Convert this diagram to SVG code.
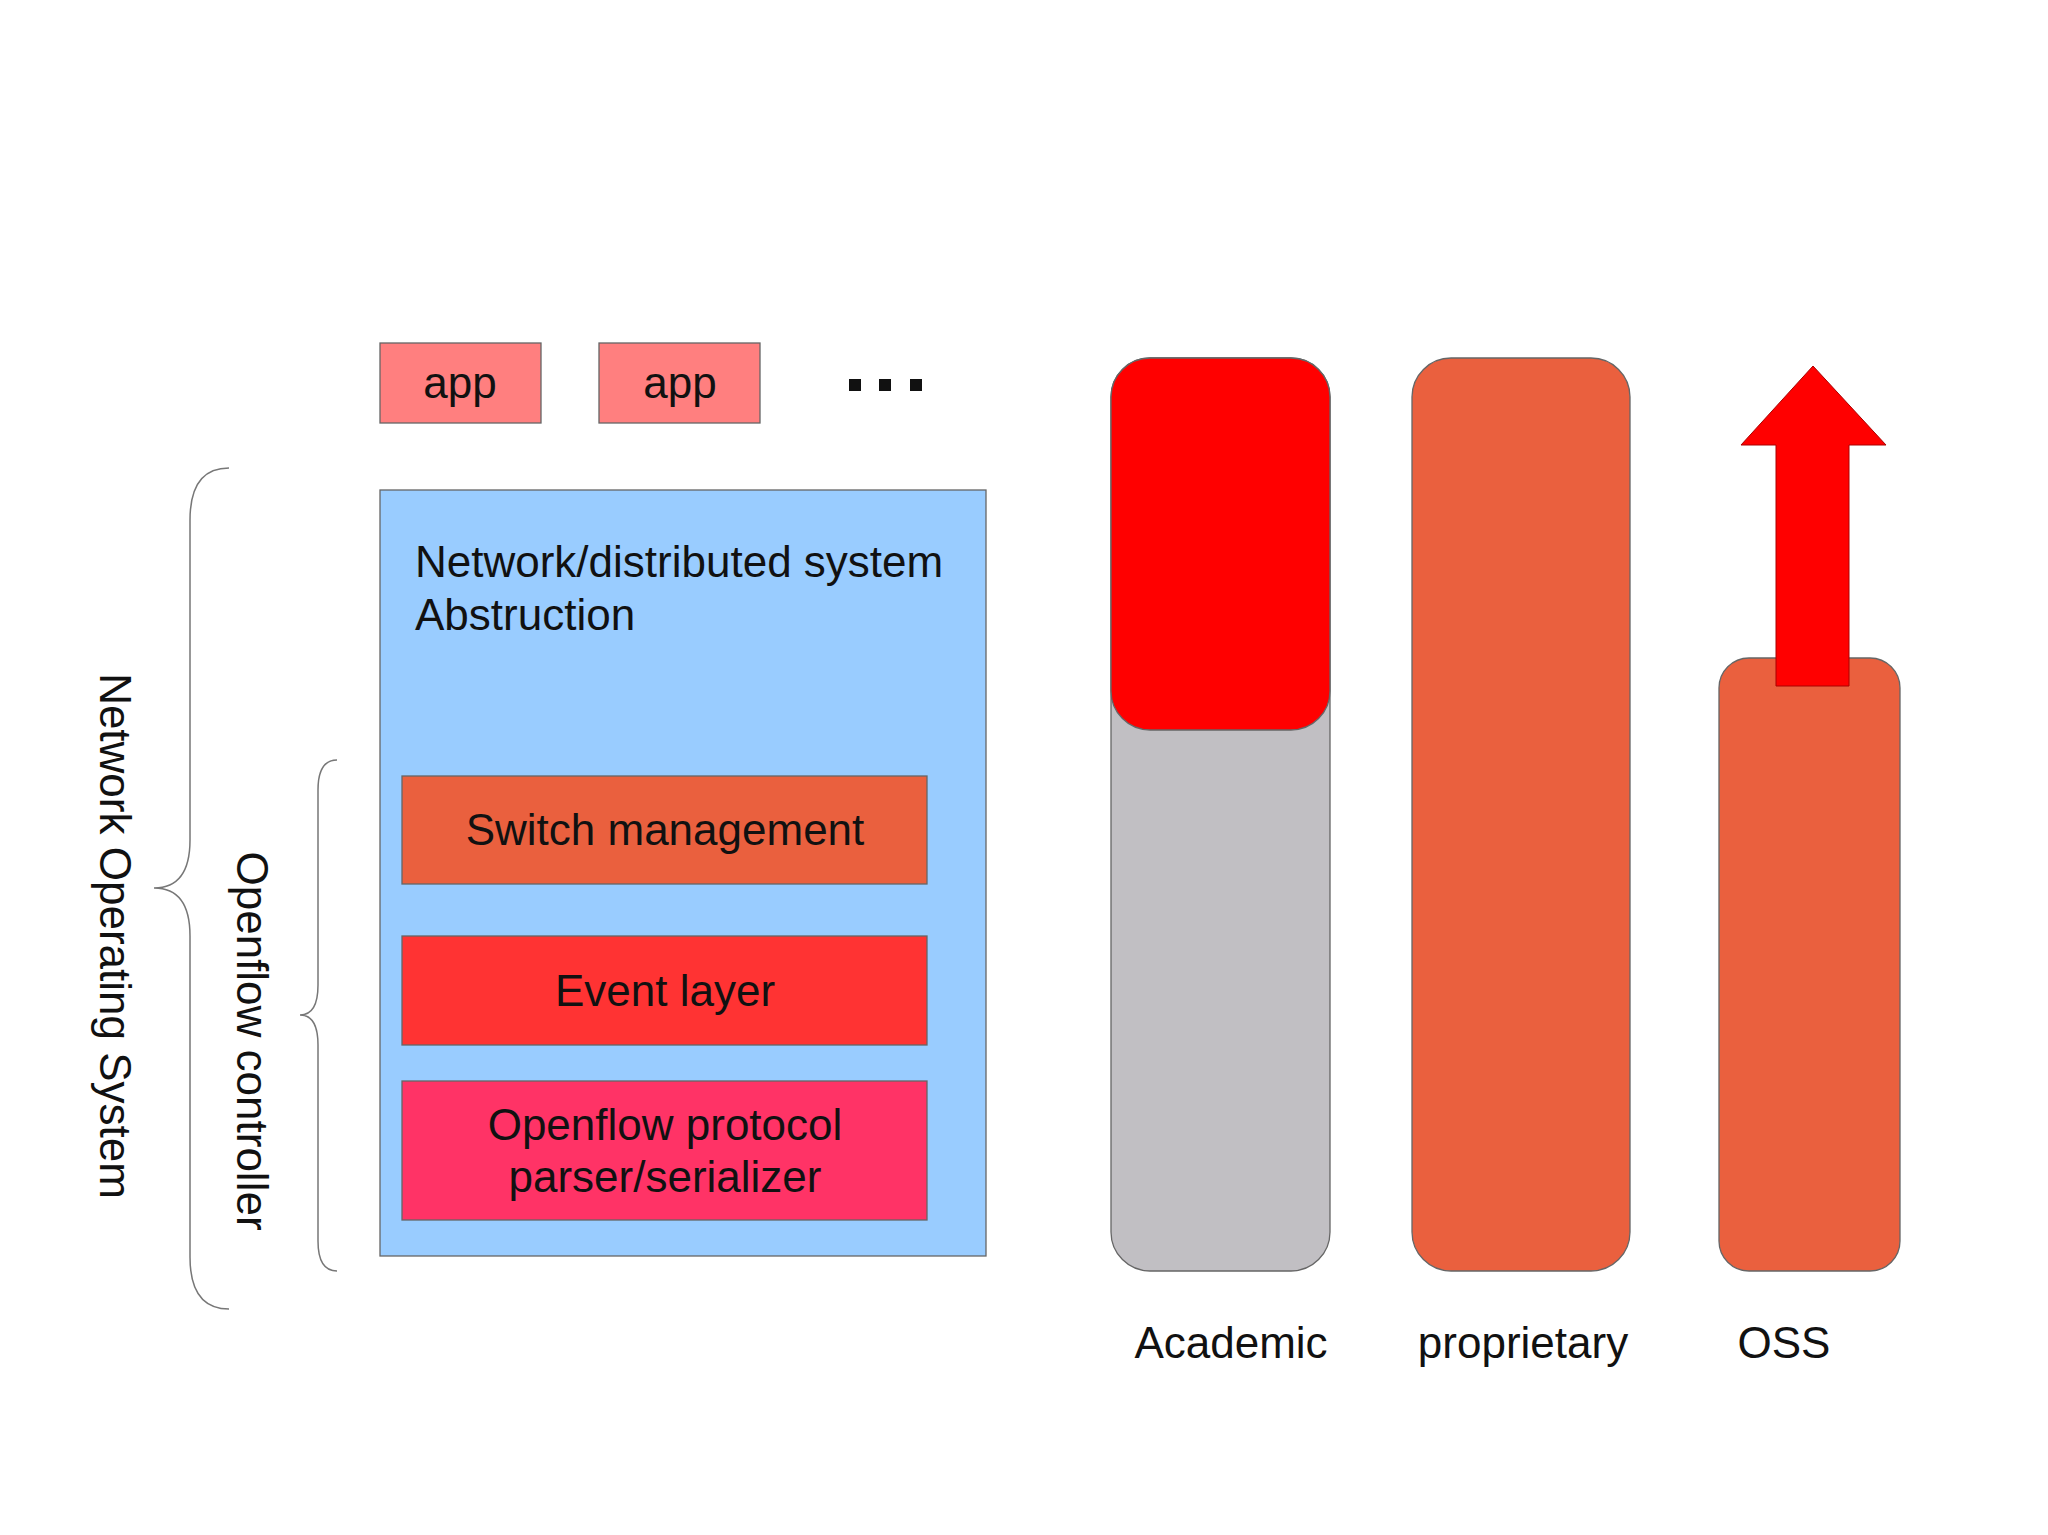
<svg xmlns="http://www.w3.org/2000/svg" width="2048" height="1535" viewBox="0 0 2048 1535">
<style>
text{font-family:"Liberation Sans",Arial,sans-serif;font-size:44px;fill:#111}
.box{stroke:#666;stroke-width:1.3}
.br{fill:none;stroke:#777;stroke-width:1.5}
</style>
<rect width="2048" height="1535" fill="#fff"/>
<g id="app1"><rect class="box" x="380" y="343" width="161" height="80" fill="#ff7f7f"/><text x="460" y="398" text-anchor="middle">app</text></g>
<g id="app2"><rect class="box" x="599" y="343" width="161" height="80" fill="#ff7f7f"/><text x="680" y="398" text-anchor="middle">app</text></g>
<g id="dots" fill="#111"><rect x="849" y="379" width="12" height="12"/><rect x="879" y="379" width="12" height="12"/><rect x="910" y="379" width="12" height="12"/></g>
<g id="nos"><rect class="box" x="380" y="490" width="606" height="766" fill="#99ccff"/>
<text x="415" y="577">Network/distributed system</text><text x="415" y="630">Abstruction</text></g>
<g id="switch"><rect class="box" x="402" y="776" width="525" height="108" fill="#ea603e"/><text x="665" y="845" text-anchor="middle">Switch management</text></g>
<g id="event"><rect class="box" x="402" y="936" width="525" height="109" fill="#ff3333"/><text x="665" y="1006" text-anchor="middle">Event layer</text></g>
<g id="openflow"><rect class="box" x="402" y="1081" width="525" height="139" fill="#ff3366"/><text x="665" y="1140" text-anchor="middle">Openflow protocol</text><text x="665" y="1192" text-anchor="middle">parser/serializer</text></g>
<g id="academic"><rect class="box" x="1111" y="358" width="219" height="913" rx="39" fill="#c1bfc3"/>
<path d="M1111 397 a39 39 0 0 1 39 -39 h141 a39 39 0 0 1 39 39 v294 a39 39 0 0 1 -39 39 h-141 a39 39 0 0 1 -39 -39 z" fill="#ff0000" stroke="#666" stroke-width="1.3"/>
<text x="1231" y="1358" text-anchor="middle">Academic</text></g>
<g id="proprietary"><rect class="box" x="1412" y="358" width="218" height="913" rx="39" fill="#ea603e"/><text x="1523" y="1358" text-anchor="middle">proprietary</text></g>
<g id="oss"><rect class="box" x="1719" y="658" width="181" height="613" rx="30" fill="#ea603e"/><text x="1784" y="1358" text-anchor="middle">OSS</text></g>
<g id="arrow"><polygon points="1813,366 1886,445 1849,445 1849,686 1776,686 1776,445 1741,445" fill="#ff0000" stroke="#a00" stroke-width="1"/></g>
<g id="connectors">
<path class="br" d="M229 468 Q190 468 190 520 V840 Q190 888 154 888 Q190 888 190 936 V1257 Q190 1309 229 1309"/>
<path class="br" d="M337 760 Q318 760 318 790 V985 Q318 1015 300 1015 Q318 1015 318 1045 V1241 Q318 1271 337 1271"/>
</g>
<g id="labels">
<text transform="translate(100,936) rotate(90)" text-anchor="middle">Network Operating System</text>
<text transform="translate(237,1041) rotate(90)" text-anchor="middle">Openflow controller</text>
</g>
</svg>
